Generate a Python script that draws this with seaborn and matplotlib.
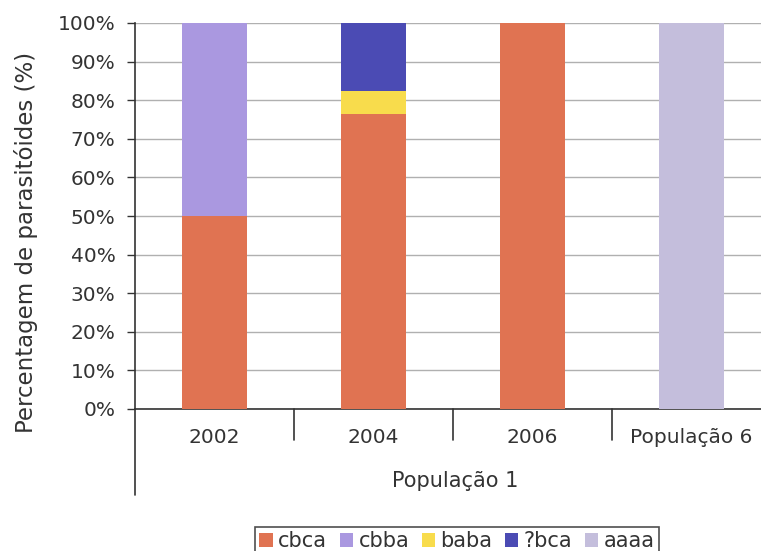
import numpy as np
import pandas as pd
import matplotlib
matplotlib.use("Agg")
import matplotlib.pyplot as plt
import seaborn as sns
from matplotlib.patches import Patch

# Categories along the x axis and the percentage of each haplotype per category
categories = ["2002", "2004", "2006", "População 6"]
haplotypes = ["cbca", "cbba", "baba", "?bca", "aaaa"]
cbca = [50.0, 76.5, 100.0, 0.0]
cbba = [50.0, 0.0, 0.0, 0.0]
baba = [0.0, 5.9, 0.0, 0.0]
qbca = [0.0, 17.6, 0.0, 0.0]
aaaa = [0.0, 0.0, 0.0, 100.0]
colors = ["#E07352", "#AA98E0", "#F8DC4C", "#4B4BB4", "#C4BEDC"]
group_label = "População 1"
y_ticks = [0, 10, 20, 30, 40, 50, 60, 70, 80, 90, 100]

sns.set_theme(style="white")
plt.rcParams["font.family"] = ["DejaVu Sans"]
text_color = "#333333"
fs = 14.5

fig = plt.figure(figsize=(7.61, 5.51), dpi=100)
W, H = 761, 551
ax = fig.add_axes([135 / W, 1 - 409 / H, (771 - 135) / W, (409 - 23) / H])

layers = np.array([cbca, cbba, baba, qbca, aaaa])
cumulative = np.cumsum(layers, axis=0)

# Stacked bars: draw the cumulative totals from the top layer down
for i in range(len(haplotypes) - 1, -1, -1):
    df = pd.DataFrame({"cat": categories, "val": cumulative[i]})
    sns.barplot(data=df, x="cat", y="val", order=categories, color=colors[i],
                width=0.41, saturation=1, ax=ax, zorder=3, edgecolor="none")

ax.set_xlim(-0.5, 3.5)
ax.set_ylim(0, 100)
ax.set_yticks(y_ticks)
ax.set_yticklabels([f"{t}%" for t in y_ticks], fontsize=fs, color=text_color)
ax.yaxis.grid(True, color="#B0B0B0", linewidth=1.0, zorder=0)
ax.set_axisbelow(True)
ax.tick_params(axis="y", left=True, length=6, width=1, color="#333333", pad=8)
ax.tick_params(axis="x", bottom=False, length=0, pad=14,
               labelsize=fs, labelcolor=text_color)
ax.set_xlabel("")
ax.set_ylabel("Percentagem de parasitóides (%)", fontsize=16.5,
              color=text_color)
ax.yaxis.set_label_coords((38 - 135) / 636, (409 - 242) / 386)

for side in ["top", "right"]:
    ax.spines[side].set_visible(False)
for side in ["left", "bottom"]:
    ax.spines[side].set_color("#333333")
    ax.spines[side].set_linewidth(1.2)

# Category separators below the axis and extended left axis line
unit = 100 / (409 - 23)
for xb in [0.5, 1.5, 2.5]:
    ax.plot([xb, xb], [0, -31 * unit], color="#333333", lw=1.2, clip_on=False)
ax.plot([-0.5, -0.5], [0, -86 * unit], color="#333333", lw=1.2, clip_on=False)

fig.text(455 / W, 1 - 481 / H, group_label, ha="center", va="center",
         fontsize=15, color=text_color)

handles = [Patch(facecolor=c, edgecolor="none") for c in colors]
leg = fig.legend(handles, haplotypes, loc="upper center",
                 bbox_to_anchor=(457 / W, 1 - 527 / H), ncol=5, fontsize=15,
                 frameon=True, fancybox=False, edgecolor="#222222",
                 handlelength=0.65, handleheight=0.65, handletextpad=0.25,
                 columnspacing=0.6, borderpad=0.2, borderaxespad=0,
                 labelcolor=text_color)
leg.get_frame().set_linewidth(1.2)

fig.savefig("out.png", dpi=100, facecolor="white")
